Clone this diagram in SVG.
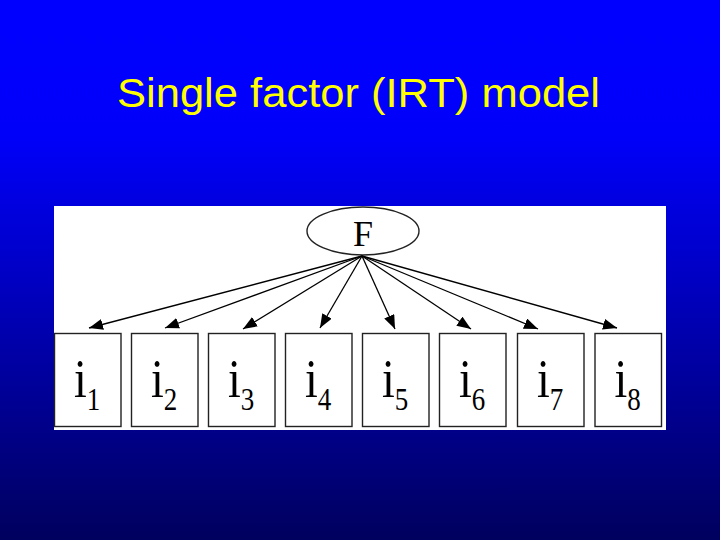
<svg xmlns="http://www.w3.org/2000/svg" width="720" height="540" viewBox="0 0 720 540">
  <defs>
    <linearGradient id="bg" x1="0" y1="0" x2="0" y2="1">
      <stop offset="0" stop-color="#0000ff"/>
      <stop offset="0.25" stop-color="#0000fa"/>
      <stop offset="1" stop-color="#00005e"/>
    </linearGradient>
    <marker id="arr" markerUnits="userSpaceOnUse" markerWidth="15" markerHeight="12" refX="14" refY="5.5" orient="auto">
      <path d="M0,0 L14,5.5 L0,11 Z" fill="#000"/>
    </marker>
    <style>
      .title { font-family: "Liberation Sans", Arial, sans-serif; font-size: 41px; fill: #ffff00; }
      .box { fill: #ffffff; stroke: #222222; stroke-width: 1.4; }
      .node-text { font-family: "Liberation Serif", "Times New Roman", serif; fill: #000; }
      .edge { stroke: #000; stroke-width: 1.3; fill: none; marker-end: url(#arr); }
    </style>
  </defs>
  <rect x="0" y="0" width="720" height="540" fill="url(#bg)"/>
  <text class="title" x="117" y="107" textLength="483" lengthAdjust="spacingAndGlyphs">Single factor (IRT) model</text>

  <rect x="54" y="206" width="612" height="224" fill="#ffffff"/>

  <g id="F">
    <ellipse cx="363" cy="231" rx="56" ry="24" fill="#ffffff" stroke="#222" stroke-width="1.4"/>
    <text class="node-text" font-size="36" text-anchor="middle" x="363" y="246">F</text>
  </g>

  <g id="connectors">
    <line class="edge" x1="362" y1="256" x2="89" y2="328"/>
    <line class="edge" x1="362" y1="256" x2="165" y2="328"/>
    <line class="edge" x1="362" y1="256" x2="243" y2="329"/>
    <line class="edge" x1="362" y1="256" x2="320" y2="328"/>
    <line class="edge" x1="362" y1="256" x2="395" y2="329"/>
    <line class="edge" x1="362" y1="256" x2="471" y2="329"/>
    <line class="edge" x1="362" y1="256" x2="538" y2="329"/>
    <line class="edge" x1="362" y1="256" x2="617" y2="328"/>
  </g>

  <g id="i1">
    <rect class="box" x="54.5" y="333.5" width="66.5" height="93"/>
    <text class="node-text" transform="translate(74,397) scale(1,1.2)"><tspan font-size="46">i</tspan><tspan font-size="27" dy="11">1</tspan></text>
  </g>
  <g id="i2">
    <rect class="box" x="131.5" y="333.5" width="66.5" height="93"/>
    <text class="node-text" transform="translate(151,397) scale(1,1.2)"><tspan font-size="46">i</tspan><tspan font-size="27" dy="11">2</tspan></text>
  </g>
  <g id="i3">
    <rect class="box" x="208.5" y="333.5" width="66.5" height="93"/>
    <text class="node-text" transform="translate(228,397) scale(1,1.2)"><tspan font-size="46">i</tspan><tspan font-size="27" dy="11">3</tspan></text>
  </g>
  <g id="i4">
    <rect class="box" x="285.5" y="333.5" width="66.5" height="93"/>
    <text class="node-text" transform="translate(305,397) scale(1,1.2)"><tspan font-size="46">i</tspan><tspan font-size="27" dy="11">4</tspan></text>
  </g>
  <g id="i5">
    <rect class="box" x="362.5" y="333.5" width="66.5" height="93"/>
    <text class="node-text" transform="translate(382,397) scale(1,1.2)"><tspan font-size="46">i</tspan><tspan font-size="27" dy="11">5</tspan></text>
  </g>
  <g id="i6">
    <rect class="box" x="439.5" y="333.5" width="66.5" height="93"/>
    <text class="node-text" transform="translate(459,397) scale(1,1.2)"><tspan font-size="46">i</tspan><tspan font-size="27" dy="11">6</tspan></text>
  </g>
  <g id="i7">
    <rect class="box" x="517.5" y="333.5" width="66.5" height="93"/>
    <text class="node-text" transform="translate(537,397) scale(1,1.2)"><tspan font-size="46">i</tspan><tspan font-size="27" dy="11">7</tspan></text>
  </g>
  <g id="i8">
    <rect class="box" x="595" y="333.5" width="66.5" height="93"/>
    <text class="node-text" transform="translate(614.5,397) scale(1,1.2)"><tspan font-size="46">i</tspan><tspan font-size="27" dy="11">8</tspan></text>
  </g>
</svg>
